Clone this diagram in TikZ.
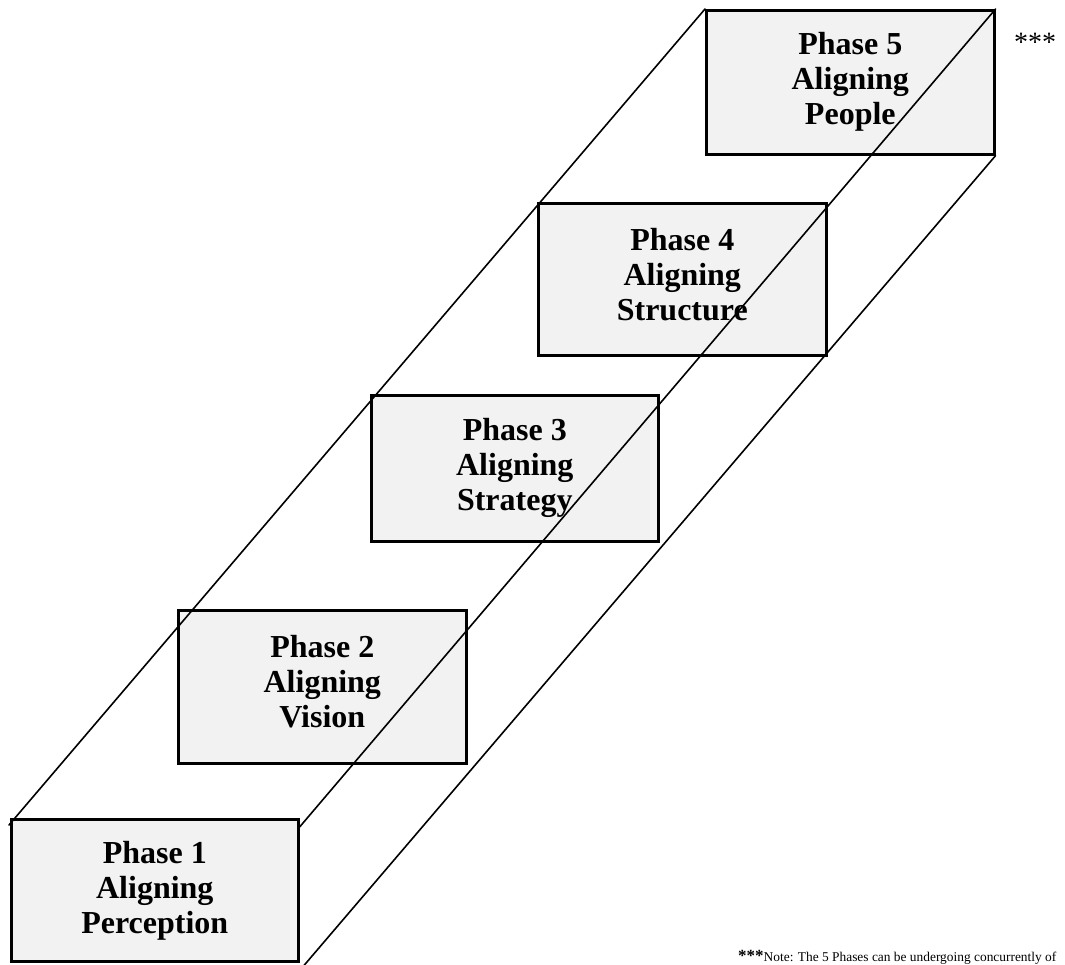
\documentclass[tikz,border=0pt]{standalone}
\usepackage{fontspec}
\setmainfont{Liberation Serif}
\usetikzlibrary{calc}
\definecolor{boxgray}{HTML}{F2F2F2}
\begin{document}
\begin{tikzpicture}[x=1pt,y=-1pt,
  phasebox/.style={draw=black, line width=2.6pt, fill=boxgray, anchor=north west,
    inner sep=0pt, align=center,
    font=\fontsize{32}{35}\selectfont\bfseries},
  edgeline/.style={line width=1.6pt, line cap=round},
  notetext/.style={inner sep=0pt, anchor=base west}]
\useasboundingbox (0,0) rectangle (1065,965);
\clip (0,0) rectangle (1065,965);

% the five phase boxes, climbing the staircase
\node[phasebox, minimum width=287pt, minimum height=142pt] (b1) at (10,818)
  {Phase 1\\Aligning\\Perception};
\node[phasebox, minimum width=288pt, minimum height=153pt] (b2) at (177,609)
  {Phase 2\\Aligning\\Vision\strut};
\node[phasebox, minimum width=287pt, minimum height=146pt] (b3) at (370,394)
  {Phase 3\\Aligning\\Strategy};
\node[phasebox, minimum width=288pt, minimum height=152pt] (b4) at (537,202)
  {Phase 4\\Aligning\\Structure\strut};
\node[phasebox, minimum width=288pt, minimum height=144pt] (b5) at (705,9)
  {Phase 5\\Aligning\\People};

% edges of the prism joining the first and last phase
\coordinate (a1) at ($(b1.north west)+(-1,7)$);
\coordinate (e1) at ($(b1.north east)+(0,9)$);
\coordinate (s1) at ($(b1.south east)+(0,8)$);
\draw[edgeline] (b5.north west) -- (a1);
\draw[edgeline] (b5.north east) -- (e1);
\draw[edgeline] (b5.south east) -- (s1);

% remark markers
\node[notetext, font=\fontsize{28}{30}\selectfont] (stars) at (1014,52) {***};
\node[notetext, font=\fontsize{13.4}{15}\selectfont] (note) at (738,961)
  {{\fontsize{17}{17}\selectfont\bfseries ***}Note: The 5 Phases can be undergoing concurrently of};
\end{tikzpicture}
\end{document}
